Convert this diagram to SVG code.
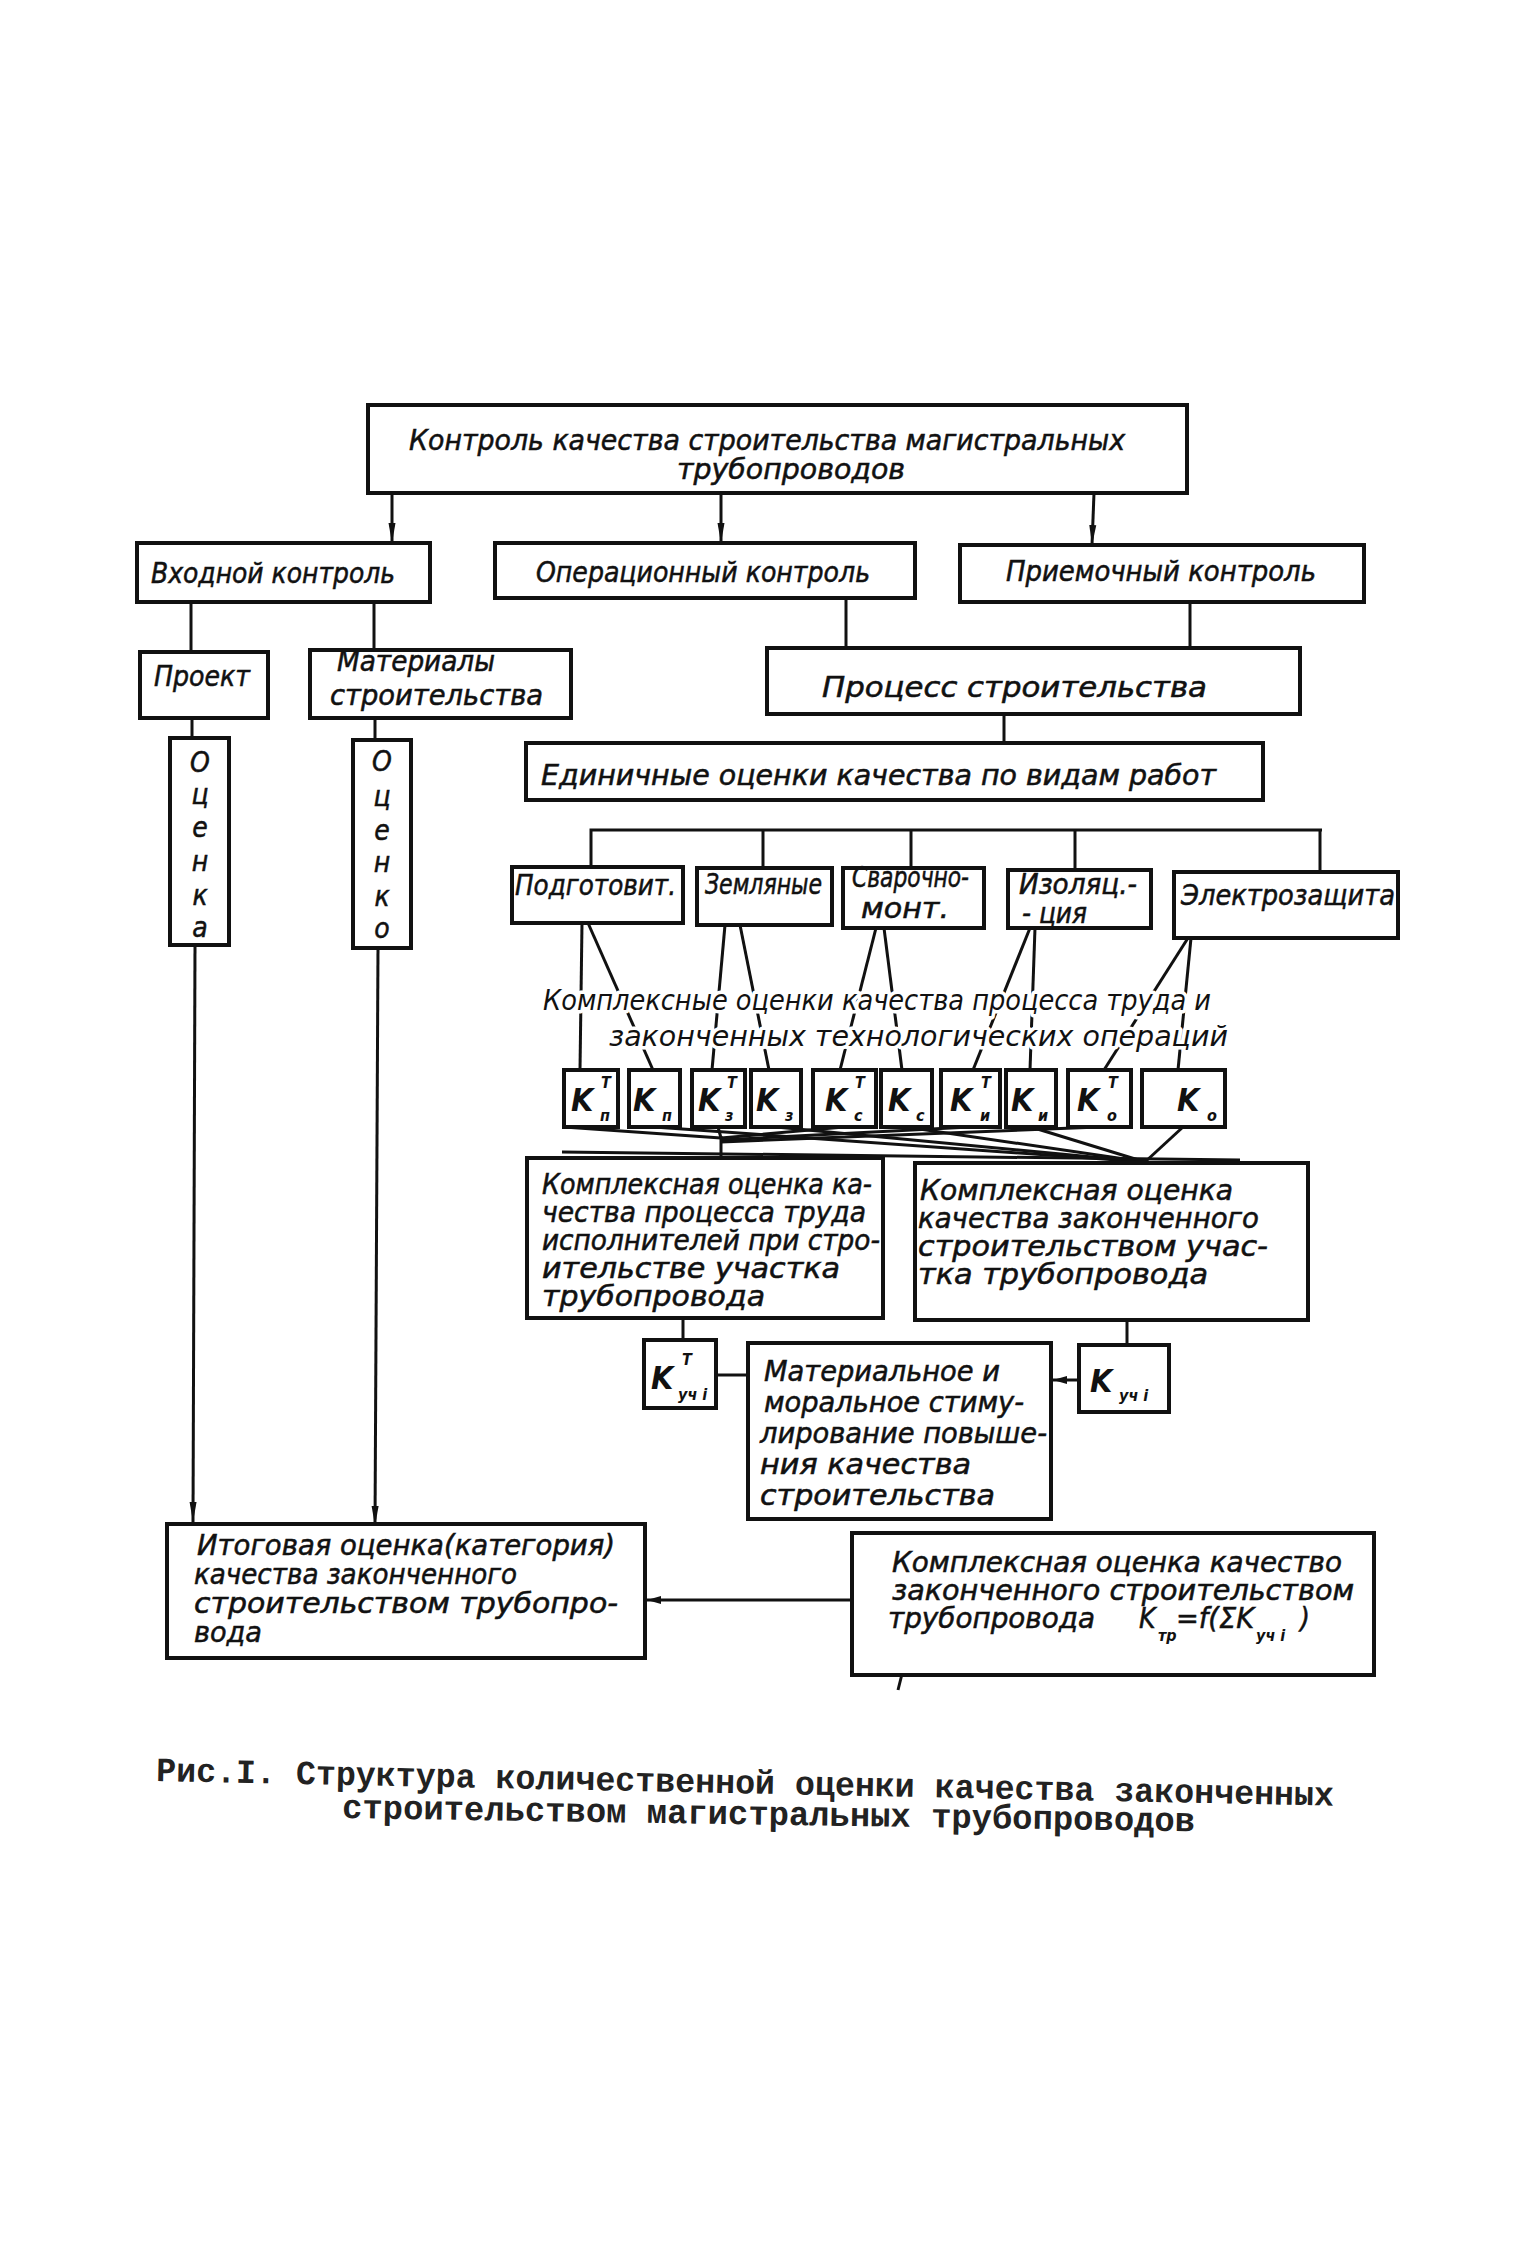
<svg xmlns="http://www.w3.org/2000/svg" width="1535" height="2243" viewBox="0 0 1535 2243">
<defs>
<style>
.box{fill:#fff;stroke:#111;stroke-width:4}
.ln{fill:none;stroke:#111;stroke-width:3}
.t{font-family:"DejaVu Sans Condensed","DejaVu Sans",sans-serif;font-style:italic;fill:#111;font-size:28px;stroke:#111;stroke-width:0.5px}
.halo{paint-order:stroke;stroke:#fff;stroke-width:7px;stroke-linejoin:round}
.k{font-family:"DejaVu Sans Condensed","DejaVu Sans",sans-serif;font-style:italic;fill:#111;font-size:32px;font-weight:bold}
.s{font-family:"DejaVu Sans Condensed","DejaVu Sans",sans-serif;font-style:italic;fill:#111;font-size:16px;font-weight:bold}
.cap{font-family:"Liberation Mono","DejaVu Sans Mono",monospace;font-weight:bold;fill:#222;font-size:34px}
</style>
<marker id="arr" viewBox="0 0 20 10" refX="20" refY="5" markerWidth="20" markerHeight="10" markerUnits="userSpaceOnUse" orient="auto">
<path d="M0,1.5 L20,5 L0,8.5 z" fill="#111"/>
</marker>
<marker id="arrs" viewBox="0 0 14 10" refX="14" refY="5" markerWidth="14" markerHeight="10" markerUnits="userSpaceOnUse" orient="auto">
<path d="M0,1 L14,5 L0,9 z" fill="#111"/>
</marker>
</defs>
<rect width="1535" height="2243" fill="#fff"/>

<g id="connectors">
<line class="ln" x1="392" y1="493" x2="392" y2="543" marker-end="url(#arr)"/>
<line class="ln" x1="721" y1="493" x2="721" y2="543" marker-end="url(#arr)"/>
<line class="ln" x1="1094" y1="493" x2="1092" y2="545" marker-end="url(#arr)"/>
<line class="ln" x1="191" y1="602" x2="191" y2="652"/>
<line class="ln" x1="374" y1="602" x2="374" y2="650"/>
<line class="ln" x1="846" y1="598" x2="846" y2="648"/>
<line class="ln" x1="1190" y1="602" x2="1190" y2="648"/>
<line class="ln" x1="192" y1="718" x2="192" y2="738"/>
<line class="ln" x1="375" y1="718" x2="375" y2="740"/>
<line class="ln" x1="1004" y1="714" x2="1004" y2="743"/>
<polyline class="ln" points="591,867 591,830 1322,830"/>
<line class="ln" x1="763" y1="830" x2="763" y2="868"/>
<line class="ln" x1="911" y1="830" x2="911" y2="868"/>
<line class="ln" x1="1075" y1="830" x2="1075" y2="870"/>
<line class="ln" x1="1320" y1="830" x2="1320" y2="872"/>
<line class="ln" x1="582" y1="923" x2="580" y2="1070"/>
<line class="ln" x1="588" y1="923" x2="653" y2="1070"/>
<line class="ln" x1="725" y1="925" x2="712" y2="1070"/>
<line class="ln" x1="740" y1="925" x2="769" y2="1070"/>
<line class="ln" x1="876" y1="928" x2="840" y2="1070"/>
<line class="ln" x1="884" y1="928" x2="902" y2="1070"/>
<line class="ln" x1="1030" y1="928" x2="973" y2="1070"/>
<line class="ln" x1="1035" y1="928" x2="1030" y2="1070"/>
<line class="ln" x1="1188" y1="938" x2="1104" y2="1070"/>
<line class="ln" x1="1191" y1="938" x2="1178" y2="1070"/>
<line class="ln" x1="564" y1="1127" x2="721" y2="1138"/>
<line class="ln" x1="718" y1="1127" x2="721" y2="1138"/>
<line class="ln" x1="844" y1="1127" x2="721" y2="1138"/>
<line class="ln" x1="970" y1="1127" x2="721" y2="1140"/>
<line class="ln" x1="1099" y1="1127" x2="721" y2="1142"/>
<line class="ln" x1="721" y1="1136" x2="721" y2="1158"/>
<line class="ln" x1="654" y1="1127" x2="1145" y2="1162"/>
<line class="ln" x1="776" y1="1127" x2="1145" y2="1162"/>
<line class="ln" x1="906" y1="1127" x2="1145" y2="1162"/>
<line class="ln" x1="1031" y1="1127" x2="1145" y2="1162"/>
<line class="ln" x1="1183" y1="1127" x2="1145" y2="1162"/>
<line class="ln" x1="562" y1="1152" x2="1240" y2="1160"/>
<line class="ln" x1="683" y1="1318" x2="683" y2="1340"/>
<line class="ln" x1="1127" y1="1320" x2="1127" y2="1345"/>
<line class="ln" x1="716" y1="1375" x2="748" y2="1375"/>
<line class="ln" x1="1079" y1="1380" x2="1053" y2="1380" marker-end="url(#arrs)"/>
<line class="ln" x1="195" y1="945" x2="193" y2="1522" marker-end="url(#arr)"/>
<line class="ln" x1="378" y1="948" x2="375" y2="1526" marker-end="url(#arr)"/>
<line class="ln" x1="852" y1="1600" x2="647" y2="1600" marker-end="url(#arrs)"/>
<line class="ln" x1="902" y1="1674" x2="898" y2="1690" stroke-width="4"/>
</g>

<g id="n-top">
<rect class="box" x="368" y="405" width="819" height="88"/>
<text class="t" x="409" y="450" font-size="22" textLength="716" lengthAdjust="spacingAndGlyphs">Контроль качества строительства магистральных</text>
<text class="t" x="677" y="479" font-size="22" textLength="228" lengthAdjust="spacingAndGlyphs">трубопроводов</text>
</g>
<g id="n-vhod">
<rect class="box" x="137" y="543" width="293" height="59"/>
<text class="t" x="151" y="583" textLength="244" lengthAdjust="spacingAndGlyphs">Входной контроль</text>
</g>
<g id="n-oper">
<rect class="box" x="495" y="543" width="420" height="55"/>
<text class="t" x="536" y="582" textLength="334" lengthAdjust="spacingAndGlyphs">Операционный контроль</text>
</g>
<g id="n-priem">
<rect class="box" x="960" y="545" width="404" height="57"/>
<text class="t" x="1006" y="581" textLength="310" lengthAdjust="spacingAndGlyphs">Приемочный контроль</text>
</g>
<g id="n-proekt">
<rect class="box" x="140" y="652" width="128" height="66"/>
<text class="t" x="154" y="686" textLength="96" lengthAdjust="spacingAndGlyphs">Проект</text>
</g>
<g id="n-mater">
<rect class="box" x="310" y="650" width="261" height="68"/>
<text class="t" x="337" y="671" font-size="22" textLength="158" lengthAdjust="spacingAndGlyphs">Материалы</text>
<text class="t" x="330" y="705" font-size="25" textLength="213" lengthAdjust="spacingAndGlyphs">строительства</text>
</g>
<g id="n-process">
<rect class="box" x="767" y="648" width="533" height="66"/>
<text class="t" x="822" y="697" font-size="32" textLength="385" lengthAdjust="spacingAndGlyphs">Процесс строительства</text>
</g>
<g id="n-ocenka1" class="t" font-size="25" text-anchor="middle">
<rect class="box" x="170" y="738" width="59" height="207"/>
<text x="200" y="772">О</text>
<text x="200" y="804">ц</text>
<text x="200" y="837">е</text>
<text x="200" y="871">н</text>
<text x="200" y="905">к</text>
<text x="200" y="937">а</text>
</g>
<g id="n-ocenka2" class="t" font-size="25" text-anchor="middle">
<rect class="box" x="353" y="740" width="58" height="208"/>
<text x="382" y="771">О</text>
<text x="382" y="806">ц</text>
<text x="382" y="840">е</text>
<text x="382" y="872">н</text>
<text x="382" y="906">к</text>
<text x="382" y="938">о</text>
</g>
<g id="n-edin">
<rect class="box" x="526" y="743" width="737" height="57"/>
<text class="t" x="541" y="785" font-size="32" textLength="675" lengthAdjust="spacingAndGlyphs">Единичные оценки качества по видам работ</text>
</g>
<g id="n-podg">
<rect class="box" x="512" y="867" width="171" height="56"/>
<text class="t" x="515" y="895" font-size="26" textLength="161" lengthAdjust="spacingAndGlyphs">Подготовит.</text>
</g>
<g id="n-zeml">
<rect class="box" x="697" y="868" width="135" height="57"/>
<text class="t" x="705" y="894" font-size="26" textLength="117" lengthAdjust="spacingAndGlyphs">Земляные</text>
</g>
<g id="n-svar">
<rect class="box" x="843" y="868" width="141" height="60"/>
<text class="t" x="852" y="887" font-size="17" textLength="117" lengthAdjust="spacingAndGlyphs">Сварочно-</text>
<text class="t" x="861" y="918" font-size="17" textLength="88" lengthAdjust="spacingAndGlyphs">монт.</text>
</g>
<g id="n-izol">
<rect class="box" x="1008" y="870" width="143" height="58"/>
<text class="t" x="1019" y="894" font-size="17" textLength="118" lengthAdjust="spacingAndGlyphs">Изоляц.-</text>
<text class="t" x="1022" y="923" font-size="17" textLength="65" lengthAdjust="spacingAndGlyphs">- ция</text>
</g>
<g id="n-elektr">
<rect class="box" x="1174" y="872" width="224" height="66"/>
<text class="t" x="1181" y="905" font-size="26" textLength="214" lengthAdjust="spacingAndGlyphs">Электрозащита</text>
</g>

<g id="label-complex">
<text class="t halo" x="543" y="1010" font-size="26" textLength="668" lengthAdjust="spacingAndGlyphs">Комплексные оценки качества процесса труда и</text>
<text class="t halo" x="609" y="1046" font-size="26" textLength="619" lengthAdjust="spacingAndGlyphs">законченных технологических операций</text>
</g>

<g id="n-k1"><rect class="box" x="564" y="1070" width="54" height="57"/><text class="k" x="571" y="1111">K</text><text class="s" x="601" y="1088">T</text><text class="s" x="600" y="1121">п</text></g>
<g id="n-k2"><rect class="box" x="629" y="1070" width="51" height="57"/><text class="k" x="633" y="1111">K</text><text class="s" x="662" y="1121">п</text></g>
<g id="n-k3"><rect class="box" x="692" y="1070" width="53" height="57"/><text class="k" x="698" y="1111">K</text><text class="s" x="727" y="1088">T</text><text class="s" x="725" y="1121">з</text></g>
<g id="n-k4"><rect class="box" x="751" y="1070" width="50" height="57"/><text class="k" x="756" y="1111">K</text><text class="s" x="785" y="1121">з</text></g>
<g id="n-k5"><rect class="box" x="813" y="1070" width="63" height="57"/><text class="k" x="825" y="1111">K</text><text class="s" x="855" y="1088">T</text><text class="s" x="854" y="1121">с</text></g>
<g id="n-k6"><rect class="box" x="881" y="1070" width="51" height="57"/><text class="k" x="888" y="1111">K</text><text class="s" x="916" y="1121">с</text></g>
<g id="n-k7"><rect class="box" x="941" y="1070" width="59" height="57"/><text class="k" x="950" y="1111">K</text><text class="s" x="981" y="1088">T</text><text class="s" x="980" y="1121">и</text></g>
<g id="n-k8"><rect class="box" x="1006" y="1070" width="50" height="57"/><text class="k" x="1011" y="1111">K</text><text class="s" x="1038" y="1121">и</text></g>
<g id="n-k9"><rect class="box" x="1068" y="1070" width="63" height="57"/><text class="k" x="1077" y="1111">K</text><text class="s" x="1108" y="1088">T</text><text class="s" x="1107" y="1121">о</text></g>
<g id="n-k10"><rect class="box" x="1142" y="1070" width="83" height="57"/><text class="k" x="1177" y="1111">K</text><text class="s" x="1207" y="1121">о</text></g>

<g id="n-big-left">
<rect class="box" x="527" y="1158" width="356" height="160"/>
<text class="t" x="542" y="1194" font-size="21" textLength="330" lengthAdjust="spacingAndGlyphs">Комплексная оценка ка-</text>
<text class="t" x="542" y="1222" font-size="21" textLength="324" lengthAdjust="spacingAndGlyphs">чества процесса труда</text>
<text class="t" x="542" y="1250" font-size="21" textLength="338" lengthAdjust="spacingAndGlyphs">исполнителей при стро-</text>
<text class="t" x="542" y="1278" font-size="21" textLength="298" lengthAdjust="spacingAndGlyphs">ительстве участка</text>
<text class="t" x="542" y="1306" font-size="21" textLength="223" lengthAdjust="spacingAndGlyphs">трубопровода</text>
</g>
<g id="n-big-right">
<rect class="box" x="915" y="1163" width="393" height="157"/>
<text class="t" x="920" y="1200" font-size="21" textLength="313" lengthAdjust="spacingAndGlyphs">Комплексная оценка</text>
<text class="t" x="918" y="1228" font-size="21" textLength="341" lengthAdjust="spacingAndGlyphs">качества законченного</text>
<text class="t" x="918" y="1256" font-size="21" textLength="350" lengthAdjust="spacingAndGlyphs">строительством учас-</text>
<text class="t" x="918" y="1284" font-size="21" textLength="290" lengthAdjust="spacingAndGlyphs">тка трубопровода</text>
</g>
<g id="n-kuchT">
<rect class="box" x="644" y="1340" width="72" height="68"/>
<text class="k" x="651" y="1389" font-size="30">K</text>
<text class="s" x="682" y="1365" font-size="14">T</text>
<text class="s" x="678" y="1400" font-size="14">уч i</text>
</g>
<g id="n-stim">
<rect class="box" x="748" y="1343" width="303" height="176"/>
<text class="t" x="764" y="1381" font-size="24" textLength="236" lengthAdjust="spacingAndGlyphs">Материальное и</text>
<text class="t" x="764" y="1412" font-size="24" textLength="260" lengthAdjust="spacingAndGlyphs">моральное стиму-</text>
<text class="t" x="760" y="1443" font-size="24" textLength="287" lengthAdjust="spacingAndGlyphs">лирование повыше-</text>
<text class="t" x="760" y="1474" font-size="24" textLength="211" lengthAdjust="spacingAndGlyphs">ния качества</text>
<text class="t" x="760" y="1505" font-size="24" textLength="235" lengthAdjust="spacingAndGlyphs">строительства</text>
</g>
<g id="n-kuch">
<rect class="box" x="1079" y="1345" width="90" height="67"/>
<text class="k" x="1090" y="1392" font-size="30">K</text>
<text class="s" x="1119" y="1401" font-size="14">уч i</text>
</g>
<g id="n-itog">
<rect class="box" x="167" y="1524" width="478" height="134"/>
<text class="t" x="197" y="1555" font-size="22" textLength="418" lengthAdjust="spacingAndGlyphs">Итоговая оценка(категория)</text>
<text class="t" x="194" y="1584" font-size="22" textLength="323" lengthAdjust="spacingAndGlyphs">качества законченного</text>
<text class="t" x="194" y="1613" font-size="22" textLength="424" lengthAdjust="spacingAndGlyphs">строительством трубопро-</text>
<text class="t" x="194" y="1642" font-size="22" textLength="68" lengthAdjust="spacingAndGlyphs">вода</text>
</g>
<g id="n-final">
<rect class="box" x="852" y="1533" width="522" height="142"/>
<text class="t" x="892" y="1572" font-size="21" textLength="450" lengthAdjust="spacingAndGlyphs">Комплексная оценка качество</text>
<text class="t" x="892" y="1600" font-size="21" textLength="462" lengthAdjust="spacingAndGlyphs">законченного строительством</text>
<text class="t" x="888" y="1628" font-size="21" textLength="207" lengthAdjust="spacingAndGlyphs">трубопровода</text>
<text class="t" x="1139" y="1628" font-size="23">K</text>
<text class="s" x="1158" y="1641" font-size="14">тр</text>
<text class="t" x="1176" y="1628" font-size="21" textLength="78" lengthAdjust="spacingAndGlyphs">=f(ΣK</text>
<text class="s" x="1256" y="1641" font-size="14">уч i</text>
<text class="t" x="1300" y="1628" font-size="23">)</text>
</g>

<g id="caption">
<text class="cap" x="156" y="1781" textLength="1178" lengthAdjust="spacingAndGlyphs" transform="rotate(1.2 156 1781)">Рис.I. Структура количественной оценки качества законченных</text>
<text class="cap" x="342" y="1818" textLength="853" lengthAdjust="spacingAndGlyphs" transform="rotate(0.9 342 1818)">строительством магистральных трубопроводов</text>
</g>
</svg>
